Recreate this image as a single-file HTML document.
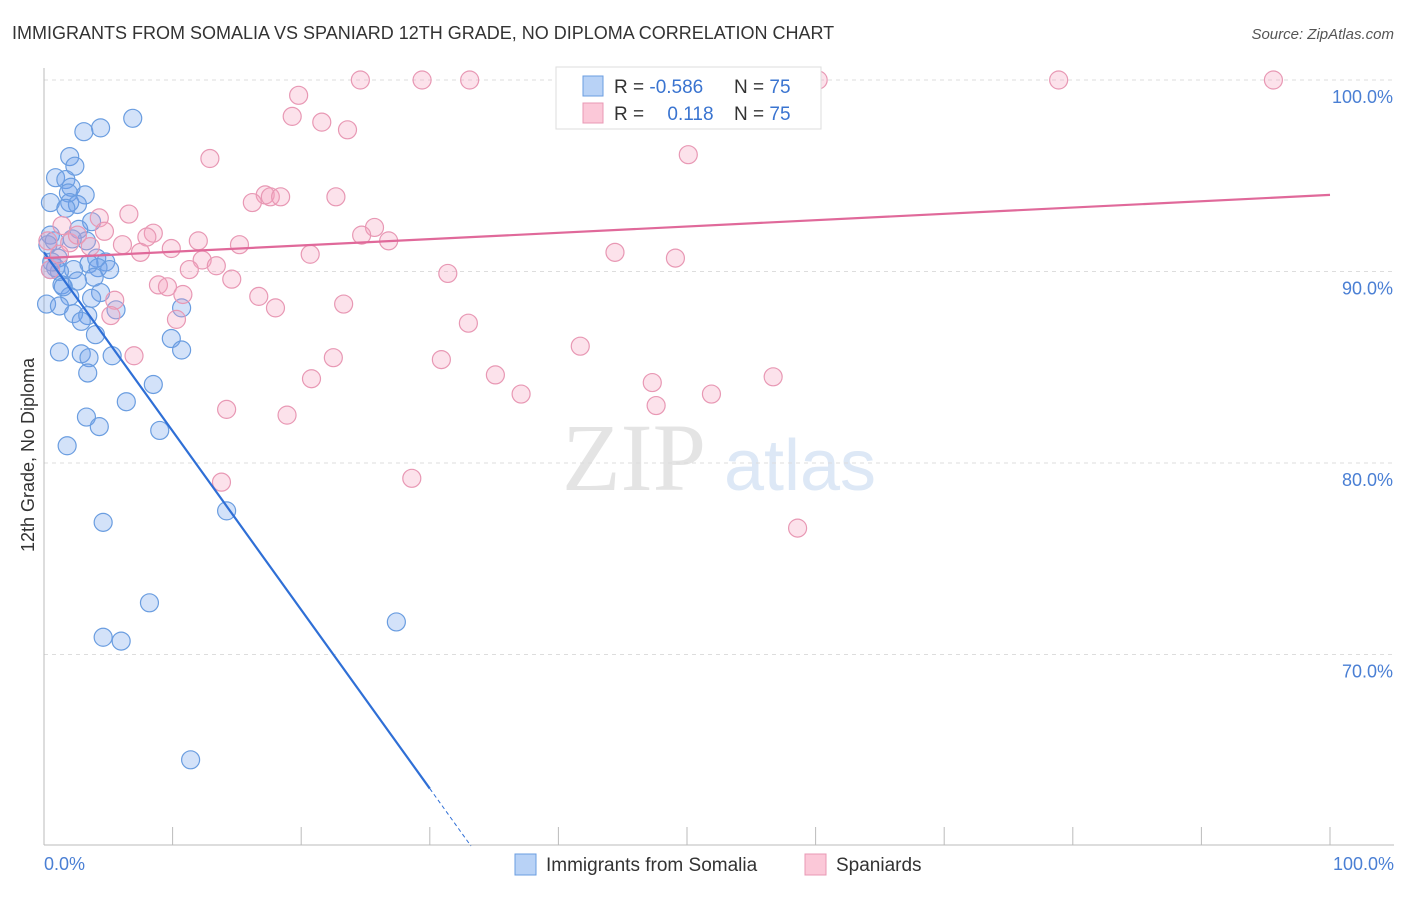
<!DOCTYPE html>
<html><head><meta charset="utf-8"><style>
body{margin:0;background:#fff;font-family:"Liberation Sans",sans-serif}
</style></head><body>
<svg width="1406" height="892" xmlns="http://www.w3.org/2000/svg" id="svg">
<text x="12" y="39" font-size="18" fill="#333">IMMIGRANTS FROM SOMALIA VS SPANIARD 12TH GRADE, NO DIPLOMA CORRELATION CHART</text>
<text x="1394" y="39" font-size="15" fill="#555" font-style="italic" text-anchor="end">Source: ZipAtlas.com</text>
<text x="634" y="490" font-size="96" fill="#e4e4e4" font-family="Liberation Serif" text-anchor="middle">ZIP</text>
<text x="800" y="490" font-size="72" fill="#dde8f6" text-anchor="middle">atlas</text>
<g id="grid"></g><g id="axes"></g><g id="pts"></g><g id="lines"></g>
<text transform="translate(34,455) rotate(-90)" font-size="18" fill="#333" text-anchor="middle">12th Grade, No Diploma</text>
<text x="44" y="870" font-size="18" fill="#4a7fd4">0.0%</text>
<text x="1394" y="870" font-size="18" fill="#4a7fd4" text-anchor="end">100.0%</text>
<g>
<rect x="556" y="67" width="265" height="62" fill="#fff" stroke="#ddd"/>
<rect x="583" y="76" width="20" height="20" fill="#b8d2f6" stroke="#6a9de0"/>
<rect x="583" y="103" width="20" height="20" fill="#fbc8d8" stroke="#e898b4"/>
<text x="614" y="93" font-size="19" fill="#333">R = <tspan fill="#3a74d0">-0.586</tspan></text>
<text x="734" y="93" font-size="19" fill="#333">N = <tspan fill="#3a74d0">75</tspan></text>
<text x="614" y="120" font-size="19" fill="#333">R = <tspan fill="#3a74d0" dx="18">0.118</tspan></text>
<text x="734" y="120" font-size="19" fill="#333">N = <tspan fill="#3a74d0">75</tspan></text>
</g>
<g>
<rect x="515" y="854" width="21" height="21" fill="#b8d2f6" stroke="#6a9de0"/>
<text x="546" y="871" font-size="19" fill="#333">Immigrants from Somalia</text>
<rect x="805" y="854" width="21" height="21" fill="#fbc8d8" stroke="#e898b4"/>
<text x="836" y="871" font-size="19" fill="#333">Spaniards</text>
</g>
</svg>
<script>
const yTicks=[100,90,80,70];
const xTickCount=10;
const blueX=[6.9,3.1,4.4,2.0,2.4,0.9,1.7,2.1,1.9,3.2,0.5,2.0,2.6,1.7,3.7,2.7,0.5,0.8,3.3,2.2,1.1,4.1,4.8,3.5,0.9,2.3,4.2,1.2,0.5,3.9,2.6,1.4,4.4,2.0,3.7,0.2,1.2,2.3,3.4,2.9,5.6,10.7,4.0,9.9,1.2,2.9,5.3,3.5,10.7,3.4,8.5,6.4,3.3,4.3,9.0,1.8,14.2,4.6,8.2,4.6,6.0,27.4,11.4,0.3,0.6,1.5,5.1];
const blueY=[98.0,97.3,97.5,96.0,95.5,94.9,94.8,94.4,94.1,94.0,93.6,93.6,93.5,93.3,92.6,92.2,91.9,91.6,91.6,91.7,90.7,90.7,90.5,90.4,90.2,90.1,90.2,90.0,90.1,89.7,89.5,89.3,88.9,88.7,88.6,88.3,88.2,87.8,87.7,87.4,88.0,88.1,86.7,86.5,85.8,85.7,85.6,85.5,85.9,84.7,84.1,83.2,82.4,81.9,81.7,80.9,77.5,76.9,72.7,70.9,70.7,71.7,64.5,91.4,90.5,89.2,90.1];
const pinkX=[24.6,29.4,33.1,40.7,49.5,60.2,78.9,95.6,19.8,19.3,21.6,23.6,12.9,50.1,17.2,17.6,18.4,22.7,16.2,4.3,6.6,1.4,4.7,8.5,8.0,25.7,24.7,26.8,12.0,6.1,9.9,15.2,2.0,3.6,7.5,20.7,44.4,49.1,12.3,13.4,11.3,31.4,14.6,8.9,9.6,16.7,10.8,5.5,18.0,23.3,10.3,5.2,33.0,41.7,7.0,22.5,30.9,35.1,20.8,47.3,56.7,37.1,51.9,47.6,14.2,18.9,13.8,28.6,58.6,0.5,2.6,1.2,0.3];
const pinkY=[100,100,100,100,100,100,100,100,99.2,98.1,97.8,97.4,95.9,96.1,94.0,93.9,93.9,93.9,93.6,92.8,93.0,92.4,92.1,92.0,91.8,92.3,91.9,91.6,91.6,91.4,91.2,91.4,91.5,91.3,91.0,90.9,91.0,90.7,90.6,90.3,90.1,89.9,89.6,89.3,89.2,88.7,88.8,88.5,88.1,88.3,87.5,87.7,87.3,86.1,85.6,85.5,85.4,84.6,84.4,84.2,84.5,83.6,83.6,83.0,82.8,82.5,79.0,79.2,76.6,90.1,91.9,90.9,91.6];
const blueTrend=[[0,91.0],[30,63.0],[33.2,60.0]];
const pinkTrend=[[0,90.7],[100,94.0]];
const NS='http://www.w3.org/2000/svg';
const sx=v=>44+v*12.86;
const sy=v=>80+(100-v)*19.15;
function mk(t,a,p){const e=document.createElementNS(NS,t);for(const k in a)e.setAttribute(k,a[k]);document.getElementById(p).appendChild(e);return e;}
yTicks.forEach(t=>{
 const g=mk('line',{x1:44,x2:1394,y1:sy(t),y2:sy(t),stroke:'#ddd','stroke-dasharray':'4,4'},'grid');
 
 
 const l=mk('text',{x:1393,y:sy(t)+23,'font-size':18,fill:'#4a7fd4','text-anchor':'end','font-family':'Liberation Sans'},'axes');
 l.textContent=t.toFixed(1)+'%';
 
 
});
mk('line',{x1:44,x2:44,y1:68,y2:845,stroke:'#bbb'},'axes');
mk('line',{x1:44,x2:1394,y1:845,y2:845,stroke:'#bbb'},'axes');
for(let i=0;i<=xTickCount;i++){
 const x=sx(i*10);
 const t=mk('line',{x1:x,x2:x,y1:827,y2:845,stroke:'#bbb'},'axes');
 
 
}
blueX.forEach((v,i)=>{
 const c=mk('circle',{cx:sx(v),cy:sy(blueY[i]),r:9,fill:'rgba(110,160,235,0.3)',stroke:'#6a9de0','stroke-width':1.2},'pts');
 
 
});
pinkX.forEach((v,i)=>{
 const c=mk('circle',{cx:sx(v),cy:sy(pinkY[i]),r:9,fill:'rgba(245,160,190,0.3)',stroke:'#e898b4','stroke-width':1.2},'pts');
 
 
});
const b1=mk('line',{x1:sx(blueTrend[0][0]),y1:sy(blueTrend[0][1]),x2:sx(blueTrend[1][0]),y2:sy(blueTrend[1][1]),stroke:'#2f6fd6','stroke-width':2.2},'lines');


const b2=mk('line',{x1:sx(blueTrend[1][0]),y1:sy(blueTrend[1][1]),x2:sx(blueTrend[2][0]),y2:sy(blueTrend[2][1]),stroke:'#2f6fd6','stroke-width':1,'stroke-dasharray':'4,3'},'lines');


const p1=mk('line',{x1:sx(pinkTrend[0][0]),y1:sy(pinkTrend[0][1]),x2:sx(pinkTrend[1][0]),y2:sy(pinkTrend[1][1]),stroke:'#e0699a','stroke-width':2.2},'lines');


</script>
</body></html>
